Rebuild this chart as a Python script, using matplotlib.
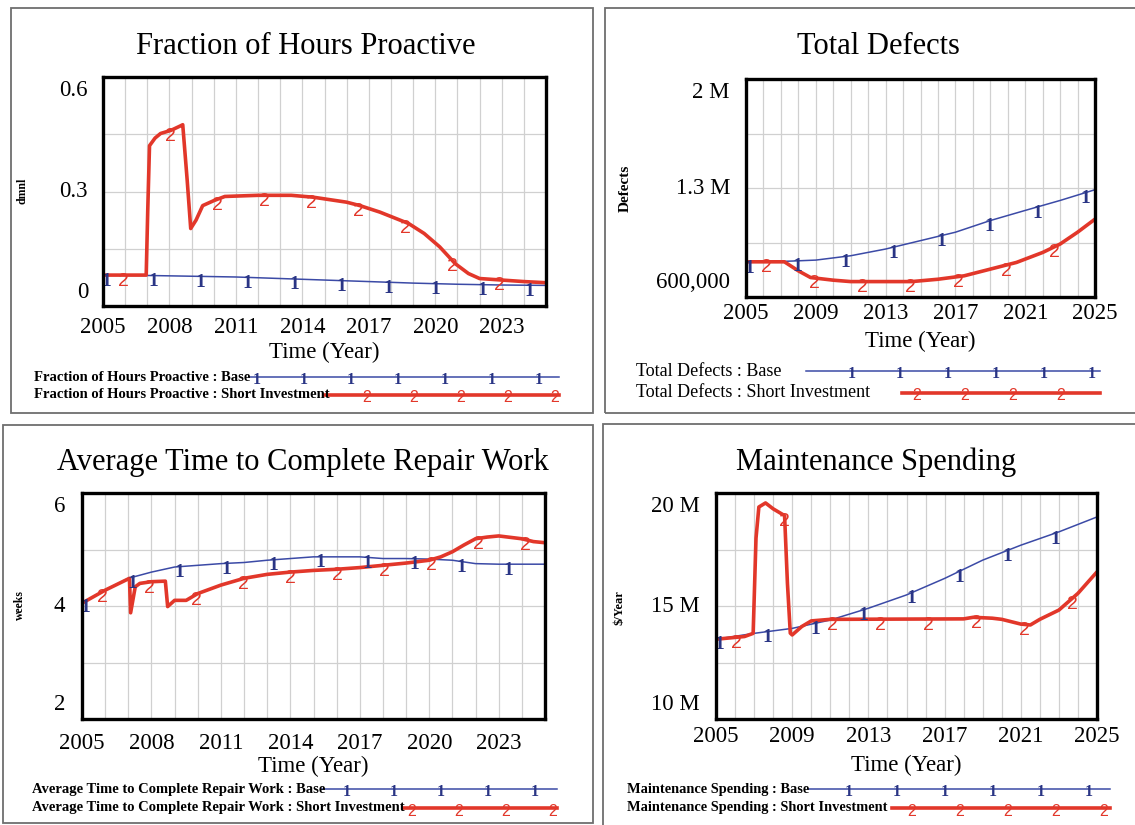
import numpy as np
import matplotlib
matplotlib.use('Agg')
import matplotlib.pyplot as plt
from matplotlib.patches import Rectangle
from matplotlib.lines import Line2D
import matplotlib.transforms as mtransforms

# ---------------- DATA ----------------
# Fraction of Hours Proactive (dmnl)
fhp_base_t = [2005, 2007, 2009, 2011, 2013, 2015, 2017, 2019, 2021, 2023, 2025]
fhp_base_v = [0.081, 0.080, 0.078, 0.076, 0.072, 0.068, 0.064, 0.060, 0.057, 0.055, 0.054]
fhp_short_t = [2005, 2006.95, 2007.02, 2007.1, 2007.35, 2007.6, 2008.06, 2008.5, 2008.6,
               2008.8, 2008.96, 2009.2, 2009.5, 2010.0, 2010.5, 2012.0, 2013.5, 2014.5,
               2016.0, 2016.6, 2017.5, 2018.8, 2019.5, 2020.2, 2020.9, 2021.5, 2022.0,
               2023.0, 2024.0, 2025.0]
fhp_short_v = [0.081, 0.081, 0.25, 0.42, 0.440, 0.452, 0.460, 0.472, 0.475,
               0.33, 0.203, 0.225, 0.263, 0.276, 0.287, 0.290, 0.290, 0.285,
               0.272, 0.263, 0.246, 0.216, 0.190, 0.155, 0.111, 0.085, 0.072,
               0.068, 0.064, 0.061]

# Total Defects (Defects)
td_base_t = [2005, 2007, 2009, 2011, 2013, 2015, 2017, 2019, 2021, 2023, 2025]
td_base_v = [822e3, 828e3, 837e3, 865e3, 908e3, 962e3, 1016e3, 1091e3, 1156e3, 1220e3, 1289e3]
td_short_t = [2005, 2007.2, 2008.0, 2008.7, 2010.0, 2011.0, 2014.5, 2016.0, 2017.5,
              2019.0, 2020.5, 2022.0, 2023.0, 2024.0, 2025.0]
td_short_v = [826e3, 826e3, 768e3, 725e3, 708e3, 699e3, 699e3, 714e3, 736e3,
              779e3, 822e3, 886e3, 940e3, 1016e3, 1100e3]

# Average Time to Complete Repair Work (weeks)
atc_base_t = [2005, 2006, 2007, 2008, 2009, 2010, 2011, 2012, 2013, 2014, 2015,
              2016, 2017, 2018, 2019, 2020, 2021, 2022, 2023, 2024, 2025]
atc_base_v = [4.05, 4.28, 4.49, 4.60, 4.69, 4.72, 4.75, 4.77, 4.81, 4.84, 4.87,
              4.87, 4.87, 4.84, 4.84, 4.83, 4.81, 4.75, 4.74, 4.74, 4.74]
atc_short_t = [2005, 2006, 2007.05, 2007.1, 2007.3, 2007.5, 2008.0, 2008.6, 2008.7,
               2009.0, 2009.5, 2010.0, 2011.0, 2012.0, 2013.0, 2014.0, 2015.0, 2016.0,
               2017.0, 2018.0, 2019.0, 2020.0, 2020.5, 2021.0, 2021.5, 2022.0, 2022.5,
               2023.0, 2024.0, 2024.5, 2025.0]
atc_short_v = [4.05, 4.28, 4.49, 3.88, 4.34, 4.40, 4.43, 4.44, 3.99,
               4.10, 4.10, 4.22, 4.37, 4.49, 4.56, 4.60, 4.63, 4.65,
               4.68, 4.72, 4.76, 4.81, 4.87, 4.96, 5.08, 5.19, 5.22,
               5.24, 5.19, 5.14, 5.12]

# Maintenance Spending ($/Year)
ms_base_t = [2005, 2007, 2009, 2011, 2013, 2015, 2017, 2019, 2021, 2023, 2025]
ms_base_v = [13.53e6, 13.79e6, 14.01e6, 14.38e6, 14.90e6, 15.49e6, 16.22e6, 17.03e6,
             17.69e6, 18.28e6, 18.94e6]
ms_short_t = [2005, 2006.5, 2006.95, 2007.1, 2007.25, 2007.6, 2008.0, 2008.6, 2008.75,
              2008.9, 2009.0, 2009.5, 2010.0, 2011.0, 2018.0, 2018.5, 2019.5, 2020.0,
              2021.0, 2021.5, 2022.0, 2023.0, 2024.0, 2025.0]
ms_short_v = [13.53e6, 13.65e6, 13.79e6, 18.0e6, 19.38e6, 19.56e6, 19.30e6, 19.00e6, 16.0e6,
              13.80e6, 13.72e6, 14.09e6, 14.34e6, 14.41e6, 14.43e6, 14.50e6, 14.46e6, 14.41e6,
              14.20e6, 14.16e6, 14.41e6, 14.82e6, 15.56e6, 16.51e6]

titles = ["Fraction of Hours Proactive", "Total Defects",
          "Average Time to Complete Repair Work", "Maintenance Spending"]
units = ["dmnl", "Defects", "weeks", "$/Year"]
ytick_values = [[0, 0.3, 0.6], [600e3, 1.3e6, 2e6], [2, 4, 6], [10e6, 15e6, 20e6]]
ytick_labels = [["0", "0.3", "0.6"], ["600,000", "1.3 M", "2 M"],
                ["2", "4", "6"], ["10 M", "15 M", "20 M"]]
xtick_values = [list(range(2005, 2024, 3)), list(range(2005, 2026, 4)),
                list(range(2005, 2024, 3)), list(range(2005, 2026, 4))]
run_names = ["Base", "Short Investment"]

series = [
    (fhp_base_t, fhp_base_v, fhp_short_t, fhp_short_v),
    (td_base_t, td_base_v, td_short_t, td_short_v),
    (atc_base_t, atc_base_v, atc_short_t, atc_short_v),
    (ms_base_t, ms_base_v, ms_short_t, ms_short_v),
]

# ---------------- STYLE / LAYOUT ----------------
W, H = 1135, 825
DPI = 100
fig = plt.figure(figsize=(W / DPI, H / DPI), dpi=DPI)
fig.patch.set_facecolor('white')

BLUE = '#3b4aa6'
BLUE_TXT = '#2a3585'
RED = '#e2372a'
GRID = '#d0d0d0'
SERIF = ['Liberation Serif', 'DejaVu Serif']

def fx(x):
    return x / W

def fy(y):
    return 1 - y / H

# panel boxes (x0, y0, x1, y1) in pixels from top-left
boxes = [(11, 8, 593, 413), (605, 8, 1160, 413), (3, 425, 593, 823), (603, 424, 1160, 840)]
for (x0, y0, x1, y1) in boxes:
    fig.add_artist(Rectangle((fx(x0), fy(y1)), fx(x1 - x0), (y1 - y0) / H,
                             transform=fig.transFigure, fill=False,
                             edgecolor='#6e6e6e', linewidth=1.3))

panels = [
    dict(ax=(103, 77, 546, 306), title=(306, 47), tpad=19, xl=352, ylab=(22, 191), ylfs=8.5,
         ytpad=15, leg=[(34, 377, 249, 559, 257), (34, 395, 324, 559, 367)], legfs=10.5,
         legw='bold', step=47),
    dict(ax=(746, 79, 1095, 297), title=(878, 47), tpad=15, xl=341, ylab=(625, 188), ylfs=11,
         ytpad=16, leg=[(636, 371, 806, 1100, 852), (636, 393, 902, 1100, 917)], legfs=13,
         legw='normal', step=48),
    dict(ax=(82, 493, 545, 719), title=(303, 462), tpad=21, xl=766, ylab=(20, 605), ylfs=8.5,
         ytpad=17, leg=[(32, 789, 322, 557, 347), (32, 808, 404, 557, 412)], legfs=10.5,
         legw='bold', step=47),
    dict(ax=(716, 493, 1097, 719), title=(876, 462), tpad=16, xl=765, ylab=(620, 608), ylfs=9,
         ytpad=16, leg=[(627, 789, 808, 1110, 849), (627, 808, 892, 1110, 912)], legfs=10.4,
         legw='bold', step=48),
]

def marker_text(ax_or_fig, x, y, k, transform, size=14):
    if k == 0:
        return ax_or_fig.text(x, y, '1', transform=transform, color=BLUE_TXT,
                              fontsize=size, fontweight='bold', family=SERIF,
                              ha='center', va='center', zorder=6, clip_on=False)
    return ax_or_fig.text(x, y, '2', transform=transform, color=RED,
                          fontsize=size, family=['Liberation Sans', 'DejaVu Sans'],
                          ha='center', va='center', zorder=6, clip_on=False)

for i, p in enumerate(panels):
    x0, y0, x1, y1 = p['ax']
    ax = fig.add_axes([fx(x0), fy(y1), fx(x1 - x0), (y1 - y0) / H])
    ymin, ymax = ytick_values[i][0], ytick_values[i][-1]
    ax.set_xlim(2005, 2025)
    ax.set_ylim(ymin, ymax)
    for sp in ax.spines.values():
        sp.set_linewidth(2.4)
        sp.set_color('black')
        sp.set_zorder(10)
    # grid
    for yr in range(2006, 2025):
        ax.axvline(yr, color=GRID, lw=0.9, zorder=0)
    for q in (0.25, 0.5, 0.75):
        ax.axhline(ymin + q * (ymax - ymin), color=GRID, lw=0.9, zorder=0)

    bt, bv, st, sv = series[i]
    ax.plot(bt, bv, color=BLUE, lw=1.1, zorder=3, solid_joinstyle='round')
    ax.plot(st, sv, color=RED, lw=2.6, zorder=4, solid_joinstyle='round',
            solid_capstyle='round')

    # numbered markers along lines
    width_px = x1 - x0
    ypp = 20.0 / width_px
    step = p['step']
    off = mtransforms.offset_copy(ax.transData, fig=fig, x=0, y=-6, units='dots')
    for k, (tt, vv, start) in enumerate([(bt, bv, 3), (st, sv, 20)]):
        pos = start
        while pos <= width_px - 2:
            xm = 2005 + pos * ypp
            ym = np.interp(xm, tt, vv)
            marker_text(ax, xm, ym, k, off)
            pos += step

    # x ticks
    ax.set_xticks(xtick_values[i])
    ax.set_xticklabels([str(v) for v in xtick_values[i]], family=SERIF, fontsize=16.5)
    ax.tick_params(axis='x', length=0, pad=p['tpad'] - 11)
    ax.set_yticks([])

    # y tick labels, top and bottom labels pulled inside
    for j, (v, lab) in enumerate(zip(ytick_values[i], ytick_labels[i])):
        dy = 0
        if j == 0:
            dy = 14
        elif j == len(ytick_values[i]) - 1:
            dy = -14
        tr = mtransforms.blended_transform_factory(ax.transAxes, ax.transData)
        tr = tr + mtransforms.ScaledTranslation(-p['ytpad'] / DPI, dy / DPI, fig.dpi_scale_trans)
        ax.text(0, v, lab, transform=tr, ha='right', va='center', family=SERIF, fontsize=16.5)

    # title, axis labels
    fig.text(fx(p['title'][0]), fy(p['title'][1]), titles[i], ha='center', va='center',
             family=SERIF, fontsize=22)
    fig.text(fx((x0 + x1) / 2), fy(p['xl']), "Time (Year)", ha='center', va='center',
             family=SERIF, fontsize=16.5)
    fig.text(fx(p['ylab'][0]), fy(p['ylab'][1]), units[i], ha='center', va='center',
             rotation=90, family=SERIF, fontsize=p['ylfs'], fontweight='bold')

    # legend
    for k, (tx, ty, lx0, lx1, mstart) in enumerate(p['leg']):
        fig.text(fx(tx), fy(ty), f"{titles[i]} : {run_names[k]}", ha='left', va='center',
                 family=SERIF, fontsize=p['legfs'], fontweight=p['legw'], zorder=5)
        fig.add_artist(Line2D([fx(lx0), fx(lx1)], [fy(ty), fy(ty)], transform=fig.transFigure,
                              color=BLUE if k == 0 else RED, lw=1.1 if k == 0 else 2.6,
                              zorder=4))
        m = mstart
        while m <= lx1 + 2:
            marker_text(fig, fx(m), fy(ty + 3), k, fig.transFigure, size=11.5)
            m += step

fig.savefig('out.png', dpi=DPI, facecolor='white')
